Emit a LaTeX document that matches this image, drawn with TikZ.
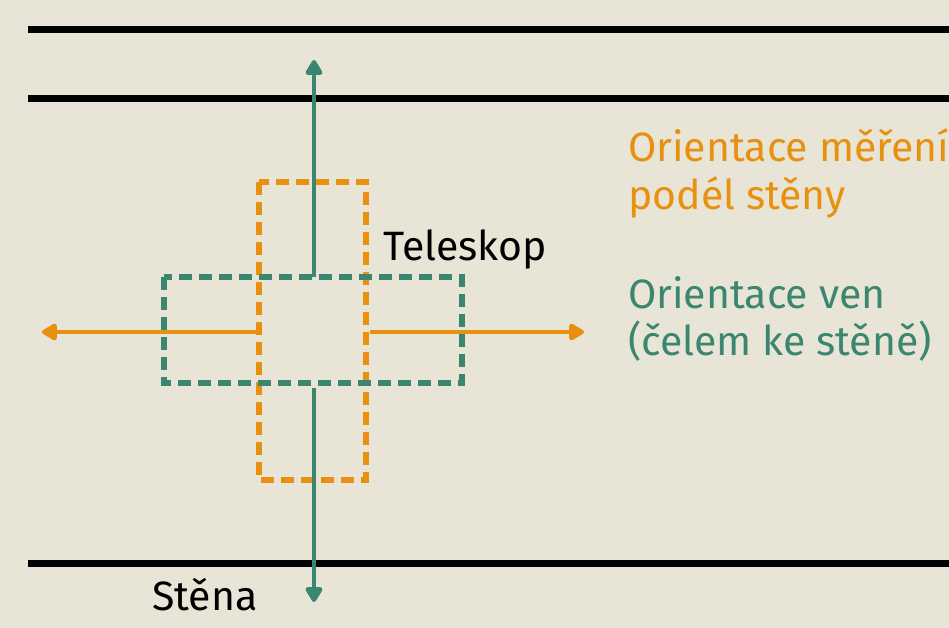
\documentclass[tikz,border=0pt]{standalone}
\usepackage{fontspec}
\setmainfont{Fira Sans}
\usetikzlibrary{arrows.meta}
\definecolor{bg}{HTML}{E9E5D6}
\definecolor{orng}{HTML}{E8900F}
\definecolor{grn}{HTML}{3A8670}
\tikzset{
  wall/.style={line width=7pt, black},
  orect/.style={draw=orng, line width=5.5pt, dash pattern=on 13pt off 7pt},
  grect/.style={draw=grn, line width=5.5pt, dash pattern=on 13pt off 7pt},
  oarrow/.style={draw=orng, line width=4.5pt, -{Triangle[length=17pt,width=19pt,round]}},
  garrow/.style={draw=grn, line width=4.5pt, -{Triangle[length=17pt,width=19pt,round]}},
  lbl/.style={font=\fontsize{41}{47}\selectfont, inner sep=0pt, anchor=base west},
}
\begin{document}
\begin{tikzpicture}[x=1pt,y=-1pt]
\fill[bg] (0,0) rectangle (949,628);
\useasboundingbox (0,0) rectangle (949,628);
% walls
\coordinate (w1a) at (28,30); \coordinate (w1b) at (949,30);
\coordinate (w2a) at (28,99); \coordinate (w2b) at (949,99);
\coordinate (w3a) at (28,563); \coordinate (w3b) at (949,563);
\draw[wall] (w1a) -- (w1b);
\draw[wall] (w2a) -- (w2b);
\draw[wall] (w3a) -- (w3b);
% rectangles
\draw[orect] (259,182) rectangle (366,480);
\draw[grect] (164,277) rectangle (462,383);
% arrows
\coordinate (gtopS) at (314,277); \coordinate (gtopE) at (314,60);
\coordinate (gbotS) at (314,388); \coordinate (gbotE) at (314,602);
\coordinate (olS) at (259,332); \coordinate (olE) at (42,332);
\coordinate (orS) at (370,332); \coordinate (orE) at (584,332);
\draw[garrow] (gtopS) -- (gtopE);
\draw[garrow] (gbotS) -- (gbotE);
\draw[oarrow] (olS) -- (olE);
\draw[oarrow] (orS) -- (orE);
% labels
\node[lbl] (tel) at (383,260) {Teleskop};
\node[lbl] (sten) at (152,610) {Stěna};
\node[lbl, text=orng] (o1) at (628,162) {Orientace měření};
\node[lbl, text=orng] (o2) at (628,210) {podél stěny};
\node[lbl, text=grn] (g1) at (628,308) {Orientace ven};
\node[lbl, text=grn] (g2) at (628,355) {(čelem ke stěně)};
\end{tikzpicture}
\end{document}
